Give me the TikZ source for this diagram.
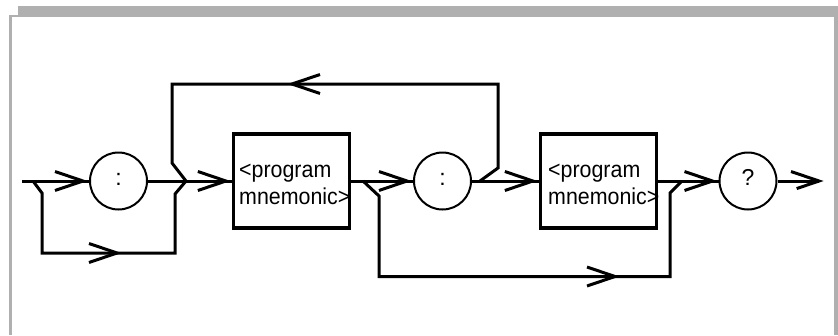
\documentclass[tikz,border=0pt]{standalone}
\usepackage{fontspec}
\setmainfont{Liberation Sans}
\usepackage{graphicx}
\definecolor{framegray}{RGB}{176,176,176}
\tikzset{
  conn/.style={line width=3pt, line join=miter},
  vhead/.pic={\draw[conn] (-34,-9.5) -- (-6,0) -- (-34,9.5);},
  tipat/.style={pos=1, sloped, allow upside down},
  circ/.style={circle, draw, line width=2pt, minimum size=57pt, inner sep=0pt,
    text height=12pt, text depth=3pt, font=\fontsize{23}{27}\selectfont},
  pbox/.style={rectangle, draw, line width=3.2pt, minimum width=116pt,
    minimum height=94pt, inner sep=0pt},
  lbl/.style={inner sep=0pt, anchor=base west, font=\fontsize{23}{27}\selectfont},
}
\newcommand{\nar}[1]{\scalebox{0.93}[1]{#1}}
\begin{document}
\begin{tikzpicture}[x=1pt,y=-1pt]
\useasboundingbox (0,0) rectangle (838,335);
% frame
\fill[framegray] (18,6) rectangle (838,335);
\fill[framegray] (9,15) rectangle (20,335);
\fill[white] (12,17) rectangle (834,335);

% nodes
\node[circ] (c1) at (118.5,181) {:};
\node[pbox] (b1) at (291.5,181) {};
\node[lbl] (b1t1) at (239,177) {\nar{<program}};
\node[lbl] (b1t2) at (239,204) {\nar{mnemonic>}};
\node[circ] (c2) at (442.5,181) {:};
\node[pbox] (b2) at (598.5,181) {};
\node[lbl] (b2t1) at (548,177) {\nar{<program}};
\node[lbl] (b2t2) at (548,204) {\nar{mnemonic>}};
\node[circ] (c3) at (748,181) {?};

% coordinates
\coordinate (start) at (22,181);
\coordinate (fin) at (825,181);
\coordinate (s1) at (33,181);
\coordinate (s1b) at (42,193);
\coordinate (s1c) at (42,253);
\coordinate (s1d) at (175,253);
\coordinate (s1e) at (175,194);
\coordinate (m1) at (186,181);
\coordinate (a1) at (123,253);
\coordinate (l1) at (480,181);
\coordinate (l2) at (498,168);
\coordinate (l3) at (498,84);
\coordinate (l4) at (172,84);
\coordinate (l5) at (172,163);
\coordinate (a2) at (286,84);
\coordinate (s2) at (363,181);
\coordinate (s2b) at (379,196);
\coordinate (s2c) at (379,276.5);
\coordinate (s2d) at (670,276.5);
\coordinate (s2e) at (670,193);
\coordinate (m2) at (682,181);
\coordinate (a3) at (621,276.5);

% main line
\draw[conn] (start) -- (c1.west) pic[tipat]{vhead};
\draw[conn] (c1.east) -- (b1.west) pic[tipat]{vhead};
\draw[conn] (b1.east) -- (c2.west) pic[tipat]{vhead};
\draw[conn] (c2.east) -- (b2.west) pic[tipat]{vhead};
\draw[conn] (b2.east) -- (c3.west) pic[tipat]{vhead};
\draw[conn, shorten >=6pt] (c3.east) -- (fin) pic[tipat]{vhead};

% bypass around first colon
\draw[conn] (s1) -- (s1b) -- (s1c) -- (s1d) -- (s1e) -- (m1);
\path (s1c) -- (a1) pic[tipat]{vhead};

% loop back
\draw[conn] (l1) -- (l2) -- (l3) -- (l4) -- (l5) -- (m1);
\path (l3) -- (a2) pic[tipat]{vhead};

% bypass around second colon and mnemonic
\draw[conn] (s2) -- (s2b) -- (s2c) -- (s2d) -- (s2e) -- (m2);
\path (s2c) -- (a3) pic[tipat]{vhead};
\end{tikzpicture}
\end{document}
